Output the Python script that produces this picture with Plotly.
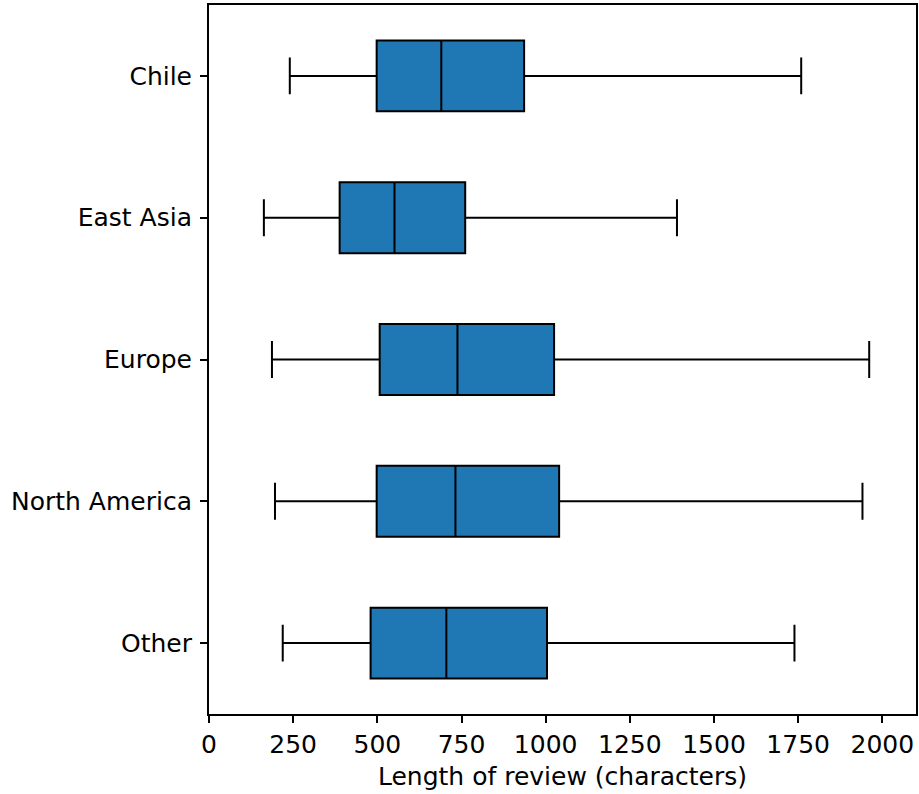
import plotly.graph_objects as go

regions = ["Chile", "East Asia", "Europe", "North America", "Other"]
lower_whisker = [240, 163, 187, 196, 219]
q1_values = [498, 388, 507, 498, 480]
medians = [690, 551, 738, 732, 705]
q3_values = [936, 761, 1025, 1040, 1004]
upper_whisker = [1759, 1390, 1961, 1941, 1739]
x_ticks = [0, 250, 500, 750, 1000, 1250, 1500, 1750, 2000]

fig = go.Figure()
fig.add_trace(go.Box(
    y=regions,
    q1=q1_values,
    median=medians,
    q3=q3_values,
    lowerfence=lower_whisker,
    upperfence=upper_whisker,
    orientation="h",
    fillcolor="#1f77b4",
    line=dict(color="black", width=2),
    width=0.5,
    whiskerwidth=0.52,
    boxpoints=False,
    showlegend=False,
    hoverinfo="skip",
))

font = dict(family="DejaVu Sans", size=25, color="black")
fig.update_layout(
    width=919, height=794,
    margin=dict(l=209, r=1, t=5, b=80),
    paper_bgcolor="white", plot_bgcolor="white",
    font=font,
    xaxis=dict(
        range=[0, 2100], tickvals=x_ticks, ticktext=[str(v) for v in x_ticks],
        showgrid=False, zeroline=False,
        showline=True, linecolor="black", linewidth=2, mirror=True,
        ticks="outside", ticklen=7, tickwidth=2, tickcolor="black",
        title=dict(text="Length of review (characters)", font=font, standoff=9),
        tickfont=font,
    ),
    yaxis=dict(
        type="category", categoryorder="array", categoryarray=regions,
        range=[4.5, -0.5],
        showgrid=False, zeroline=False,
        showline=True, linecolor="black", linewidth=2, mirror=True,
        ticks="outside", ticklen=7, tickwidth=2, tickcolor="black",
        ticklabelstandoff=3,
        tickfont=font,
    ),
)

fig.write_html(
    "out.html",
    config={"displayModeBar": False},
    post_script="document.body.style.margin='0px';document.body.style.overflow='hidden';",
)
